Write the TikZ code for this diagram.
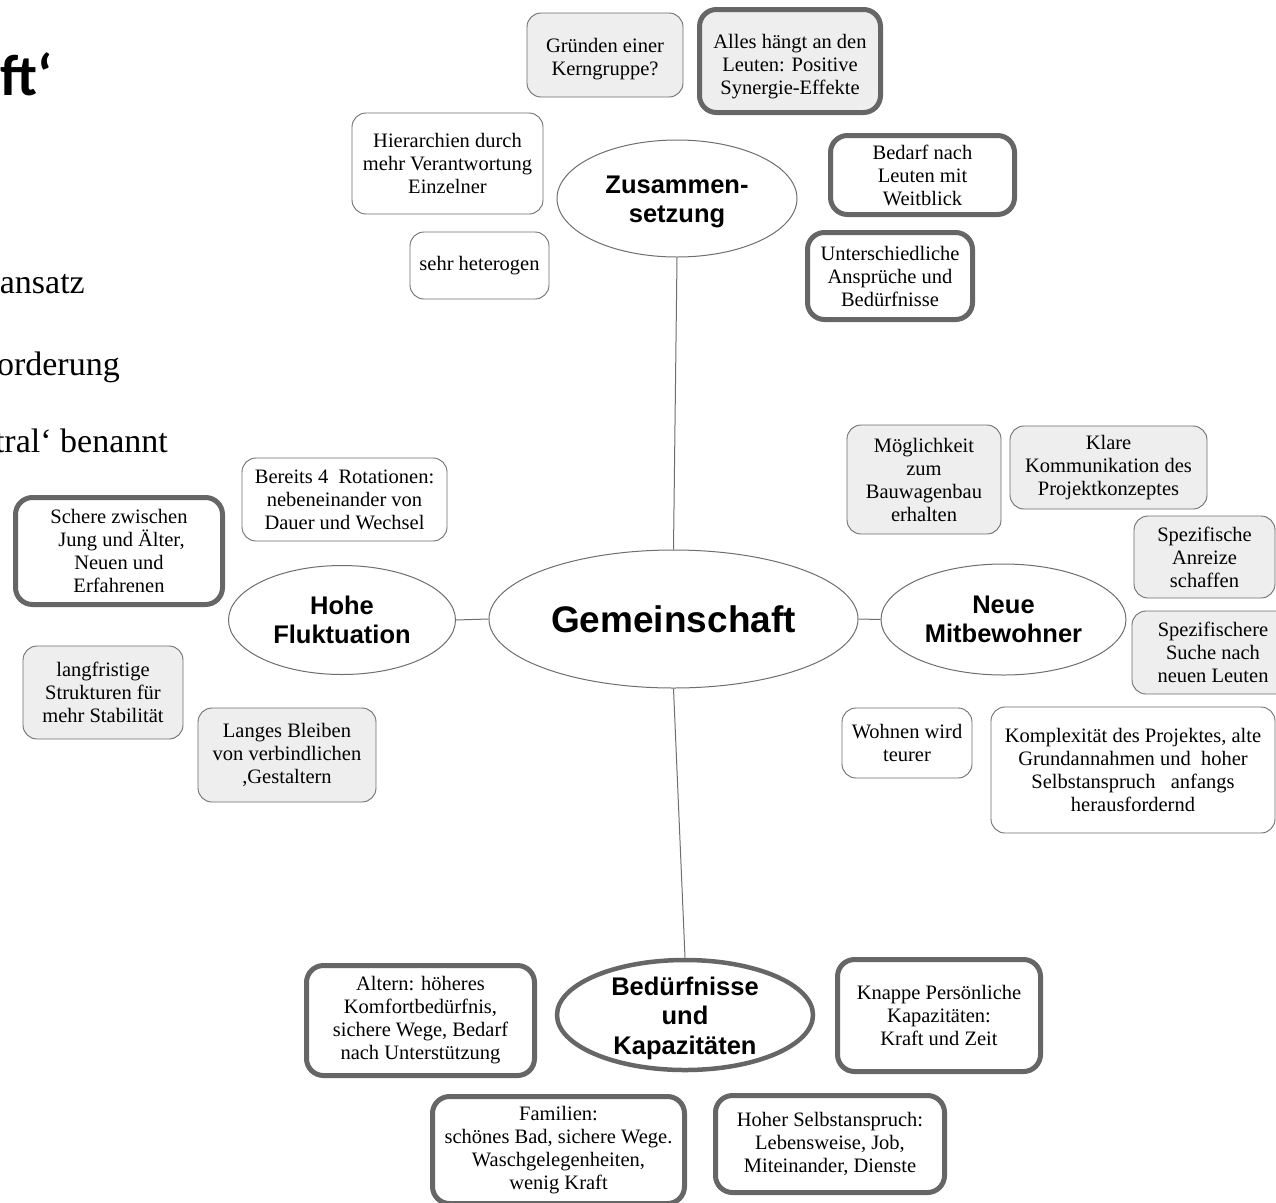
\documentclass[tikz,border=0pt]{standalone}
\usepackage{fontspec}
\setmainfont{Liberation Serif}
\newfontfamily\ellsans{Liberation Sans}
\newfontfamily\titlesans{Carlito}
\usetikzlibrary{shapes.geometric}

\definecolor{edgegray}{HTML}{6E6E6E}
\definecolor{thickgray}{HTML}{666666}
\definecolor{boxgray}{HTML}{EEEEEE}

\tikzset{
  note/.style={rectangle, rounded corners=14pt, draw=edgegray, line width=0.9pt,
    fill=white, align=center, inner sep=0pt,
    font=\fontsize{20.5}{23}\selectfont},
  notegray/.style={note, fill=boxgray},
  notebold/.style={note, draw=thickgray, line width=5pt, rounded corners=17pt},
  topic/.style={ellipse, draw=edgegray, line width=1pt, fill=white, inner sep=0pt,
    align=center, font=\ellsans\bfseries\fontsize{25.5}{28.5}\selectfont},
  topiclabel/.style={align=center, inner sep=0pt,
    font=\ellsans\bfseries\fontsize{25.5}{29.5}\selectfont},
  link/.style={draw=edgegray, line width=1pt},
  side/.style={font=\fontsize{34}{40}\selectfont, anchor=base east, inner sep=0pt},
}

\begin{document}
\begin{tikzpicture}[x=1pt,y=-1pt]
\useasboundingbox (0,0) rectangle (1276,1202);
\clip (0,0) rectangle (1276,1202);

% slide text cut at the left edge
\node[side, font=\titlesans\bfseries\fontsize{58}{64}\selectfont] (title) at (53,95) {ft‘};
\node[side] (sidea) at (85,293) {ansatz};
\node[side] (sideb) at (120,375) {orderung};
\node[side] (sidec) at (168,452) {tral‘ benannt};

% topics
\node[topic, minimum width=369pt, minimum height=138pt,
      font=\ellsans\bfseries\fontsize{37}{40}\selectfont] (gem) at (673.5,619) {Gemeinschaft};
\node[topic, minimum width=240pt, minimum height=117pt] (zus) at (677,198.5) {};
\node[topiclabel, yshift=-3.5pt] (zustext) at (zus.center) {Zusammen-\\setzung};
\node[topic, minimum width=227pt, minimum height=109pt] (hohe) at (342,620) {Hohe\\Fluktuation};
\node[topic, minimum width=245pt, minimum height=111pt] (neue) at (1003.5,619.5) {Neue\\Mitbewohner};
\node[topic, draw=thickgray, line width=4.5pt, minimum width=256pt, minimum height=110pt] (bed) at (685,1015) {};
\node[topiclabel, yshift=-3pt] (bedtext) at (bed.center) {Bedürfnisse\\und\\Kapazitäten};

% connectors
\draw[link] (gem.north) -- (zus.south);
\draw[link] (gem.south) -- (bed.north);
\draw[link] (gem.west) -- (hohe.east);
\draw[link] (gem.east) -- (neue.west);

% Zusammensetzung
\node[notegray, minimum width=156pt, minimum height=84pt] (kern) at (605,55) {\rule{0pt}{23pt}Gründen einer\\Kerngruppe?};
\node[notebold, fill=boxgray, minimum width=181pt, minimum height=103pt] (leute) at (790,61) {\rule{0pt}{25pt}Alles hängt an den\\Leuten: Positive\\Synergie-Effekte};
\node[note, minimum width=191pt, minimum height=101pt] (hier) at (447.5,163.5) {Hierarchien durch\\mehr Verantwortung\\Einzelner};
\node[note, minimum width=139pt, minimum height=67pt] (hetero) at (479.5,265.5) {sehr heterogen};
\node[notebold, minimum width=184pt, minimum height=79pt] (weit) at (922.5,175) {Bedarf nach\\Leuten mit\\Weitblick};
\node[notebold, minimum width=165pt, minimum height=87pt] (ansp) at (890,276) {Unterschiedliche\\Ansprüche und\\Bedürfnisse};

% Neue Mitbewohner
\node[notegray, minimum width=154pt, minimum height=109pt] (bauw) at (924,479.5) {Möglichkeit\\zum\\Bauwagenbau\\erhalten};
\node[notegray, minimum width=197pt, minimum height=83pt] (klar) at (1108.5,467.5) {Klare\\Kommunikation des\\Projektkonzeptes};
\node[notegray, minimum width=141pt, minimum height=82pt] (anreiz) at (1204.5,557) {Spezifische\\Anreize\\schaffen};
\node[notegray, minimum width=162pt, minimum height=83pt] (suche) at (1213,652.5) {Spezifischere\\Suche nach\\neuen Leuten};
\node[note, minimum width=130pt, minimum height=70pt] (teurer) at (907,743) {Wohnen wird\\teurer};
\node[note, minimum width=284pt, minimum height=126pt] (komplex) at (1133,770) {Komplexität des Projektes, alte\\Grundannahmen und\ \ hoher\\Selbstanspruch\ \ \ anfangs\\herausfordernd};

% Hohe Fluktuation
\node[note, minimum width=205pt, minimum height=83pt] (rotat) at (344.5,499.5) {Bereits 4\ \ Rotationen:\\nebeneinander von\\Dauer und Wechsel};
\node[notebold, minimum width=207pt, minimum height=107pt] (schere) at (119,551) {Schere zwischen\\\ Jung und Älter,\\Neuen und\\Erfahrenen};
\node[notegray, minimum width=160pt, minimum height=93pt] (langfr) at (103,692.5) {langfristige\\Strukturen für\\mehr Stabilität};
\node[notegray, minimum width=178pt, minimum height=94pt] (bleiben) at (287,755) {Langes Bleiben\\von verbindlichen\\,Gestaltern};

% Bedürfnisse und Kapazitäten
\node[notebold, minimum width=228pt, minimum height=110pt] (altern) at (420.5,1020.5) {Altern: höheres\\Komfortbedürfnis,\\sichere Wege, Bedarf\\nach Unterstützung};
\node[notebold, minimum width=203pt, minimum height=112pt] (knapp) at (939,1015.5) {Knappe Persönliche\\Kapazitäten:\\Kraft und Zeit};
\node[notebold, minimum width=252pt, minimum height=107pt] (famil) at (558.5,1150) {Familien:\\schönes Bad, sichere Wege.\\Waschgelegenheiten,\\wenig Kraft};
\node[notebold, minimum width=229pt, minimum height=97pt] (hoher) at (830,1144) {Hoher Selbstanspruch:\\Lebensweise, Job,\\Miteinander, Dienste};
\end{tikzpicture}
\end{document}
